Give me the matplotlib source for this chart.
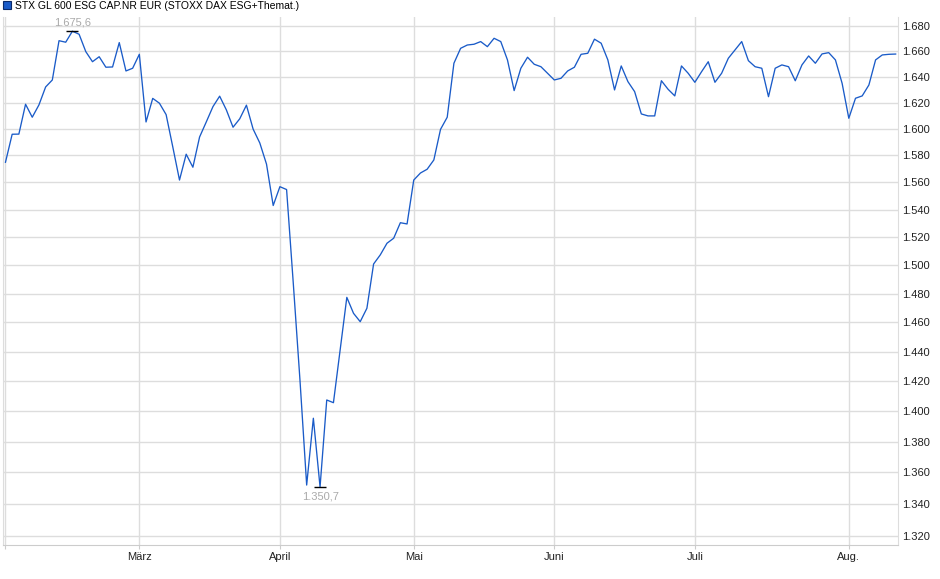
import numpy as np
import pandas as pd
import matplotlib
matplotlib.use('Agg')
import matplotlib.pyplot as plt
from matplotlib.patches import Patch
from matplotlib.ticker import FixedLocator, FuncFormatter, NullLocator

plt.rcParams['font.family'] = ['Liberation Sans', 'DejaVu Sans']

title = 'STX GL 600 ESG CAP.NR EUR (STOXX DAX ESG+Themat.)'

# handelstage feb - aug 2025
holidays = ['2025-04-18', '2025-04-21', '2025-05-01']
dates = pd.bdate_range('2025-02-03', '2025-08-12')
dates = dates[~dates.isin(pd.to_datetime(holidays))]

values = [
    1574.9, 1595.9, 1596.0, 1618.7, 1608.8, 1618.2, 1632.0, 1637.4, 1668.1, 1666.9,
    1675.6, 1673.2, 1659.5, 1651.6, 1655.5, 1647.3, 1647.5, 1666.6, 1644.4, 1646.5,
    1657.4, 1605.2, 1623.2, 1619.5, 1610.8, 1586.3, 1561.7, 1580.9, 1571.2, 1593.8,
    1605.2, 1616.9, 1624.9, 1614.4, 1601.2, 1607.6, 1618.0, 1599.8, 1589.3, 1573.5,
    1543.0, 1556.8, 1554.7, 1487.3, 1420.7, 1351.9, 1395.3, 1350.7, 1407.4, 1405.6,
    1441.1, 1477.4, 1466.3, 1460.5, 1469.8, 1500.9, 1507.4, 1515.7, 1519.3, 1530.5,
    1529.6, 1561.7, 1566.9, 1569.7, 1576.6, 1599.6, 1608.8, 1650.4, 1662.1, 1664.7,
    1665.3, 1667.4, 1663.4, 1670.0, 1667.4, 1653.0, 1629.2, 1646.5, 1655.1, 1649.6,
    1647.7, 1642.6, 1637.4, 1638.7, 1644.4, 1647.3, 1657.4, 1658.2, 1669.3, 1666.1,
    1653.0, 1629.7, 1648.3, 1636.1, 1628.4, 1611.3, 1609.8, 1609.8, 1636.8, 1630.2,
    1625.1, 1648.3, 1642.6, 1635.6, 1643.8, 1651.6, 1635.6, 1642.6, 1654.3, 1660.8,
    1667.4, 1652.4, 1647.7, 1646.5, 1624.5, 1646.5, 1649.1, 1647.7, 1636.8, 1649.1,
    1656.1, 1650.4, 1657.7, 1658.7, 1653.0, 1634.8, 1608.0, 1623.3, 1625.1, 1633.5,
    1653.0, 1656.9, 1657.4, 1657.6,
]

month_labels = ['', 'März', 'April', 'Mai', 'Juni', 'Juli', 'Aug.']
y_ticks = list(range(1320, 1681, 20))


def de(v, d=0):
    # deutsches zahlenformat 1.675,6
    return f"{v:,.{d}f}".replace(',', 'X').replace('.', ',').replace('X', '.')


x = np.arange(len(dates))
month_start = [i for i in x if i == 0 or dates[i].month != dates[i - 1].month]

fig = plt.figure(figsize=(9.4, 5.79), dpi=100)
ax = fig.add_axes([3 / 940, 1 - 545 / 579, 895 / 940, (545 - 16.5) / 579])

line_col = '#1a5bc8'
ax.plot(x, values, color=line_col, lw=0.95)

ax.set_yscale('log')
ax.set_ylim(1314.1, 1687.3)
ax.set_xlim(-0.37, 133.35)

ax.yaxis.set_major_locator(FixedLocator(y_ticks))
ax.yaxis.set_minor_locator(NullLocator())
ax.yaxis.set_major_formatter(FuncFormatter(lambda v, p: de(v)))
ax.yaxis.tick_right()

ax.set_xticks(month_start)
ax.set_xticklabels(month_labels)

ax.grid(True, color='#dddddd', lw=1)
ax.set_axisbelow(True)
ax.tick_params(axis='y', length=0, pad=3, labelsize=8, labelcolor='#222222')
ax.tick_params(axis='x', length=3, color='#cccccc', pad=2, labelsize=8, labelcolor='#222222')
ax.spines['top'].set_visible(False)
ax.spines['left'].set_color('#dddddd')
ax.spines['right'].set_color('#dddddd')
ax.spines['bottom'].set_color('#cccccc')

# hoch und tief markieren
vals = np.array(values)
imax, imin = int(vals.argmax()), int(vals.argmin())
ax.plot([imax, imin], [vals[imax], vals[imin]], '_', color='black', ms=9, mew=1)
ax.annotate(de(vals[imax], 1), (imax, vals[imax]), xytext=(0, 3), textcoords='offset points',
            ha='center', va='bottom', fontsize=8, color='#aaaaaa')
ax.annotate(de(vals[imin], 1), (imin, vals[imin]), xytext=(0, -3), textcoords='offset points',
            ha='center', va='top', fontsize=8, color='#aaaaaa')

handle = Patch(facecolor=line_col, edgecolor='#0a2a6a', lw=0.8)
ax.legend(handles=[handle], labels=[title], loc='upper left',
          bbox_to_anchor=(3 / 940, 1 - 1 / 579), bbox_transform=fig.transFigure,
          frameon=False, fontsize=7.5, handlelength=0.8, handleheight=0.8,
          handletextpad=0.4, borderpad=0, borderaxespad=0)

fig.savefig('out.png', dpi=100)
